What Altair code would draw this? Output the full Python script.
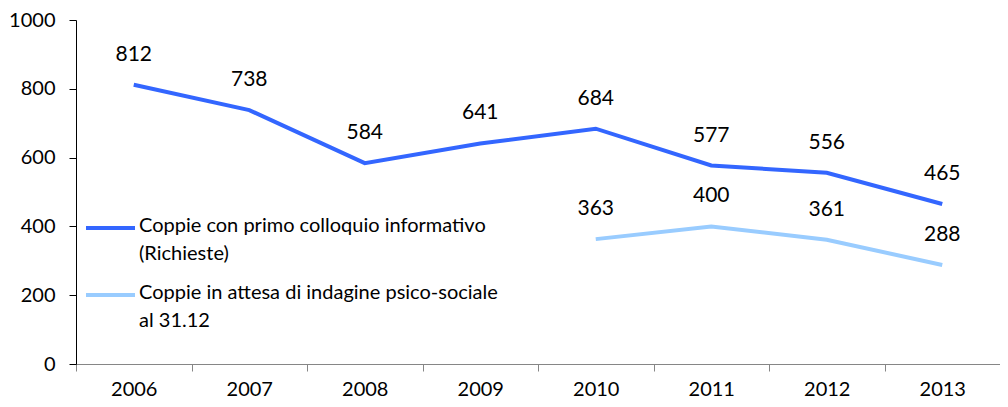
import altair as alt
import pandas as pd

years = ["2006", "2007", "2008", "2009", "2010", "2011", "2012", "2013"]
richieste = [812, 738, 584, 641, 684, 577, 556, 465]
attesa = [None, None, None, None, 363, 400, 361, 288]
series_names = ["Coppie con primo colloquio informativo", "Coppie in attesa di indagine psico-sociale"]
legend_lines = [["Coppie con primo colloquio informativo", "(Richieste)"],
                ["Coppie in attesa di indagine psico-sociale", "al 31.12"]]
colors = ["#3366FF", "#99CCFF"]
y_ticks = [0, 200, 400, 600, 800, 1000]

rows = []
for s, vals in zip(series_names, [richieste, attesa]):
    for y, v in zip(years, vals):
        if v is not None:
            rows.append({"year": y, "value": v, "series": s})
df = pd.DataFrame(rows)

FONT = "Lato"
FS = 20

x = alt.X("year:N", sort=years,
          scale=alt.Scale(paddingInner=0, paddingOuter=0),
          axis=alt.Axis(title=None, labelAngle=0, tickBand="extent",
                        domainColor="#868686", tickColor="#868686", tickSize=7,
                        labelFontSize=FS, labelFont=FONT, labelColor="black",
                        labelPadding=8, domainWidth=1))
y = alt.Y("value:Q", scale=alt.Scale(domain=[0, 1000], nice=False),
          axis=alt.Axis(title=None, values=y_ticks, grid=False, format="d",
                        domainColor="black", tickColor="black", tickSize=7,
                        labelFontSize=FS, labelFont=FONT, labelColor="black",
                        labelPadding=14))
color = alt.Color("series:N", scale=alt.Scale(domain=series_names, range=colors), legend=None)

base = alt.Chart(df)
lines = base.mark_line(strokeWidth=4).encode(x=x, y=y, color=color, detail="series:N")
labels = base.mark_text(dy=-30, fontSize=21, font=FONT, color="black").encode(
    x=x, y=y, text="value:Q")

one = pd.DataFrame({"k": [0]})
legend_layers = []
leg_y = [208, 275]
for i in range(2):
    legend_layers.append(
        alt.Chart(one).mark_rule(strokeWidth=4, color=colors[i]).encode(
            x=alt.value(10), x2=alt.value(59), y=alt.value(leg_y[i])))
    legend_layers.append(
        alt.Chart(one).mark_text(align="left", baseline="top", lineHeight=28,
                                 fontSize=FS, font=FONT, color="black").encode(
            x=alt.value(63), y=alt.value(leg_y[i] - 12), text=alt.value(legend_lines[i])))

chart = alt.layer(lines, labels, *legend_layers).properties(
    width=924, height=344,
    autosize=alt.AutoSizeParams(type="none"),
    padding={"left": 68, "top": 12, "right": 0, "bottom": 35},
).configure_view(stroke=None)

chart.save("out.html", embed_options={"renderer": "svg", "actions": False})
